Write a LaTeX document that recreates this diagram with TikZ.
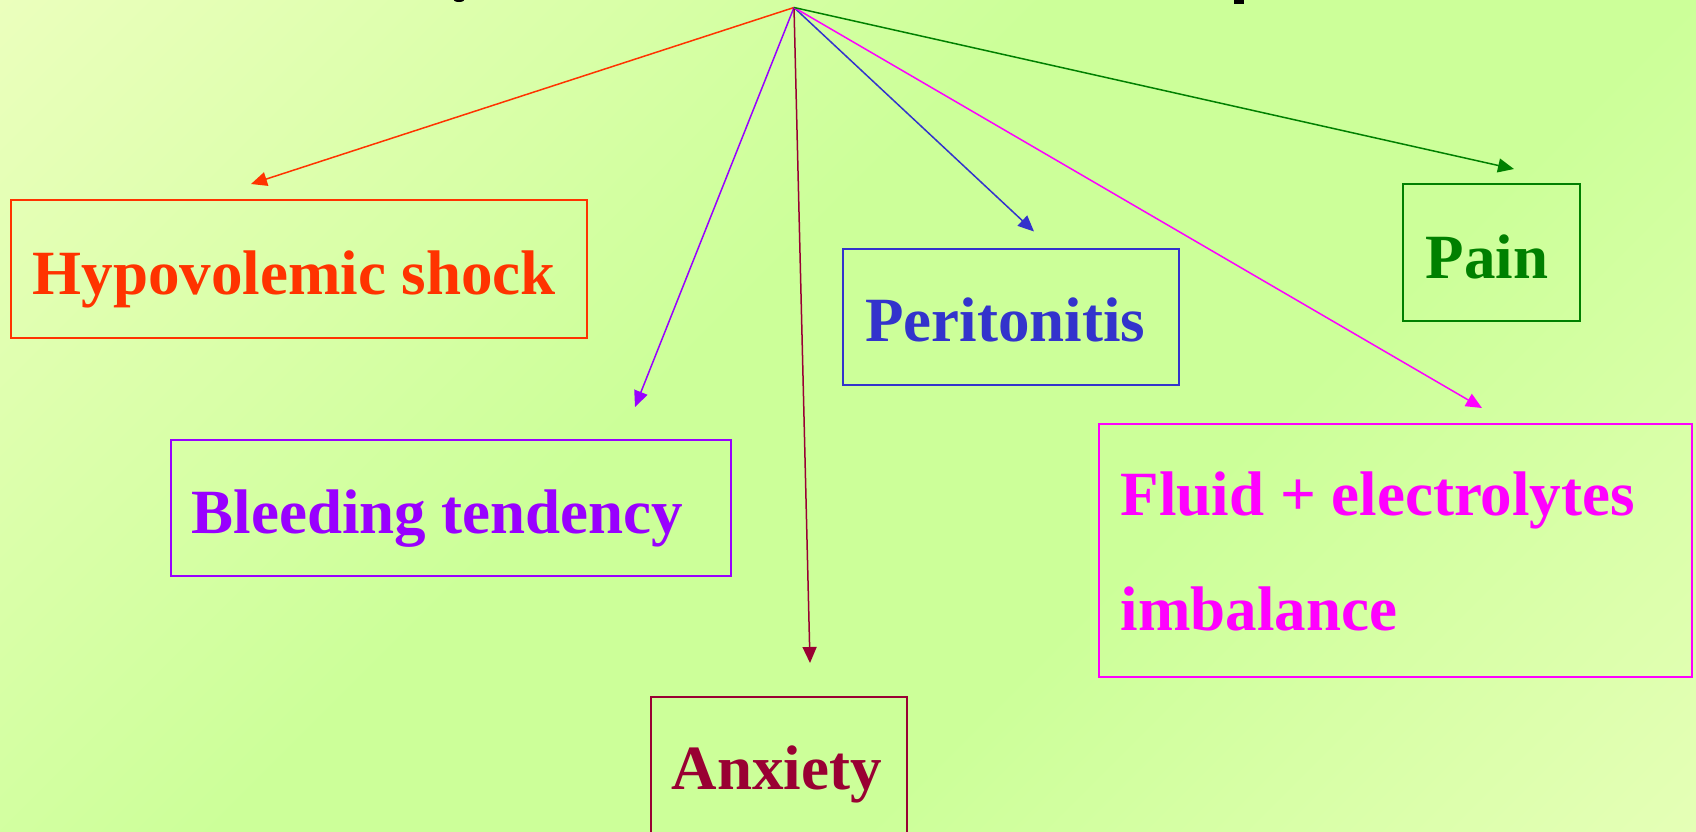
\documentclass[tikz,border=0pt]{standalone}
\usepackage{fontspec}
\setmainfont{Liberation Serif}
\usetikzlibrary{arrows.meta}
\definecolor{cred}{HTML}{FF3300}
\definecolor{cpurple}{HTML}{9900FF}
\definecolor{cmaroon}{HTML}{990033}
\definecolor{cblue}{HTML}{3333CC}
\definecolor{cmag}{HTML}{FF00FF}
\definecolor{cgreen}{HTML}{008000}
\definecolor{bgpale}{HTML}{FAFFCE}
\definecolor{bggreen}{HTML}{CCFF99}
\definecolor{bgpale2}{HTML}{F4FFC8}
\pgfdeclarehorizontalshading{bgshade}{100bp}{color(0bp)=(bgpale); color(44bp)=(bggreen); color(62bp)=(bggreen); color(100bp)=(bgpale2)}
\begin{document}
\begin{tikzpicture}[x=1pt,y=-1pt,
  box/.style={draw=#1, line width=2pt, inner sep=0pt, anchor=north west},
  lbl/.style={text=#1, font=\fontsize{63}{114.5}\selectfont\bfseries, inner sep=0pt, anchor=base west, align=left},
  arr/.style={draw=#1, line width=1.5pt, -{Triangle[length=16pt,width=14pt]}}]
\useasboundingbox (0,0) rectangle (1696,831);
\clip (0,0) rectangle (1696,831);
\shade[shading=bgshade, shading angle=-45] (0,0) rectangle (1696,831);
% fragments of cut-off title
\fill[black] (459,-1) ellipse (6 and 3);
\fill[black] (1234,0) rectangle (1244,4);
% boxes
\node[box=cred, minimum width=576.5pt, minimum height=137.5pt] (hypo) at (9.7,199) {};
\node[box=cpurple, minimum width=560pt, minimum height=136pt] (bleed) at (170,439) {};
\node[box=cmaroon, minimum width=256pt, minimum height=150pt] (anx) at (650,695.5) {};
\node[box=cblue, minimum width=336.5pt, minimum height=136pt] (peri) at (841.5,248) {};
\node[box=cgreen, minimum width=177pt, minimum height=137pt] (pain) at (1402,183) {};
\node[box=cmag, minimum width=592.5pt, minimum height=253pt] (fluid) at (1098,423) {};
% labels
\node[lbl=cred] (hypot) at (32.4,294) {Hypovolemic shock};
\node[lbl=cpurple] (bleedt) at (191.4,533) {Bleeding tendency};
\node[lbl=cmaroon] (anxt) at (671.7,789.6) {Anxiety};
\node[lbl=cblue] (perit) at (865,341.8) {Peritonitis};
\node[lbl=cgreen] (paint) at (1425.5,278) {Pain};
\node[lbl=cmag] (fluidt) at (1120.5,630) {Fluid + electrolytes\\imbalance};
% connectors
\coordinate (hub) at (794,7.5);
\coordinate (hypoend) at (251,184);
\coordinate (bleedend) at (635,407);
\coordinate (anxend) at (810,663);
\coordinate (periend) at (1034,231.5);
\coordinate (fluidend) at (1482,408);
\coordinate (painend) at (1514,169);
\draw[arr=cred] (hub) -- (hypoend);
\draw[arr=cpurple] (hub) -- (bleedend);
\draw[arr=cmaroon] (hub) -- (anxend);
\draw[arr=cblue] (hub) -- (periend);
\draw[arr=cmag] (hub) -- (fluidend);
\draw[arr=cgreen] (hub) -- (painend);
\end{tikzpicture}
\end{document}
